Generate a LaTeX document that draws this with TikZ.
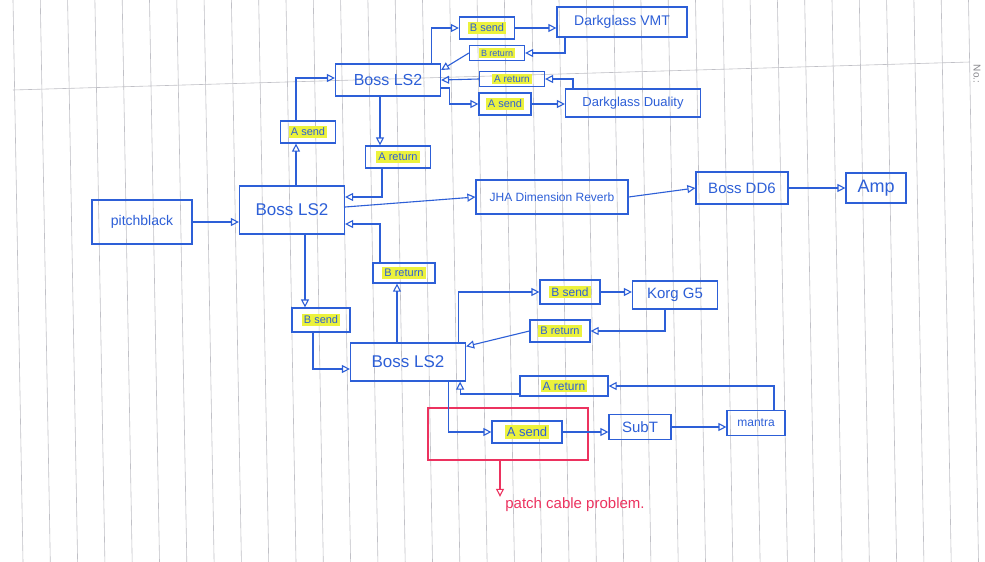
\documentclass[tikz,border=0pt]{standalone}
\usepackage{fontspec}
\setmainfont{Liberation Sans}
\usetikzlibrary{arrows.meta,calc}
\definecolor{ink}{RGB}{45,95,215}
\definecolor{hly}{RGB}{236,242,60}
\definecolor{redink}{RGB}{236,50,95}
\definecolor{paper}{RGB}{192,192,198}
\newcommand\hlt[1]{{\setlength{\fboxsep}{2pt}\colorbox{hly}{#1}}}
\newcommand\fs[1]{\fontsize{#1}{#1}\selectfont}
\begin{document}
\begin{tikzpicture}[x=1pt,y=-1pt,
  pedal/.style={draw=ink, line width=1.2pt, text=ink, inner sep=0pt, align=center},
  arr/.style={draw=ink, line width=1.1pt, -{Triangle[open, length=8pt, width=8pt]}},
  redarr/.style={draw=redink, line width=1.1pt, -{Triangle[open, length=8pt, width=8pt]}},
  paperline/.style={draw=paper, line width=0.6pt}]
\useasboundingbox (0,0) rectangle (985,562);
\fill[white] (0,0) rectangle (985,562);
% lined paper
\foreach \k in {0,...,35} \draw[paperline] ({13+27.3*\k},0) -- ({23+27.3*\k},562);
\draw[paperline] (13,90) -- (970,62);
\node[text=paper!70!black, font=\fs{10}, rotate=-90] (no) at (977,74) {No.:};

% nodes
\node[pedal, minimum width=100pt, minimum height=44pt, font=\fs{14}] (pitch) at (142,222) {pitchblack};
\node[pedal, minimum width=105pt, minimum height=48pt, font=\fs{17}] (ls2m) at (292,210) {Boss LS2};
\node[pedal, minimum width=55pt, minimum height=22pt, font=\fs{11}] (asend1) at (308,132) {\hlt{A send}};
\node[pedal, minimum width=65pt, minimum height=22pt, font=\fs{11}] (aret1) at (398,157) {\hlt{A return}};
\node[pedal, minimum width=105pt, minimum height=32pt, font=\fs{16}] (ls2t) at (388,80) {Boss LS2};
\node[pedal, minimum width=55pt, minimum height=22pt, font=\fs{11}] (bsend1) at (487,28) {\hlt{B send}};
\node[pedal, minimum width=130pt, minimum height=30pt, font=\fs{14}] (vmt) at (622,22) {Darkglass VMT};
\node[pedal, minimum width=55pt, minimum height=15pt, font=\fs{9}] (bret1) at (497,53) {\hlt{B return}};
\node[pedal, minimum width=65pt, minimum height=15pt, font=\fs{10}] (aret2) at (512,79) {\hlt{A return}};
\node[pedal, minimum width=52pt, minimum height=22pt, font=\fs{11}] (asend2) at (505,104) {\hlt{A send}};
\node[pedal, minimum width=135pt, minimum height=28pt, font=\fs{13}] (dual) at (633,103) {Darkglass Duality};
\node[pedal, minimum width=152pt, minimum height=34pt, font=\fs{12}] (jha) at (552,197) {JHA Dimension Reverb};
\node[pedal, minimum width=92pt, minimum height=32pt, font=\fs{15}] (dd6) at (742,188) {Boss DD6};
\node[pedal, minimum width=60pt, minimum height=30pt, font=\fs{18}] (amp) at (876,188) {Amp};
\node[pedal, minimum width=62pt, minimum height=20pt, font=\fs{11}] (bret2) at (404,273) {\hlt{B return}};
\node[pedal, minimum width=58pt, minimum height=24pt, font=\fs{11}] (bsend2) at (321,320) {\hlt{B send}};
\node[pedal, minimum width=115pt, minimum height=38pt, font=\fs{17}] (ls2b) at (408,362) {Boss LS2};
\node[pedal, minimum width=60pt, minimum height=24pt, font=\fs{12}] (bsend3) at (570,292) {\hlt{B send}};
\node[pedal, minimum width=85pt, minimum height=28pt, font=\fs{15}] (korg) at (675,295) {Korg G5};
\node[pedal, minimum width=60pt, minimum height=22pt, font=\fs{11}] (bret3) at (560,331) {\hlt{B return}};
\node[pedal, minimum width=88pt, minimum height=20pt, font=\fs{12}] (aret3) at (564,386) {\hlt{A return}};
\node[pedal, minimum width=70pt, minimum height=22pt, font=\fs{13}] (asend3) at (527,432) {\hlt{A send}};
\node[pedal, minimum width=62pt, minimum height=25pt, font=\fs{15}] (subt) at (640,427) {SubT};
\node[pedal, minimum width=58pt, minimum height=25pt, font=\fs{12}] (mantra) at (756,423) {mantra};
\node[draw=redink, line width=1.3pt, minimum width=160pt, minimum height=52pt, inner sep=0pt] (redbox) at (508,434) {};
\node[text=redink, font=\fs{15}, inner sep=1pt] (note) at (575,505) {patch cable problem.};

% connectors
\draw[arr] (pitch.east) -- (pitch.east -| ls2m.west);
\draw[arr] ([xshift=-12pt]asend1.south |- ls2m.north) -- ([xshift=-12pt]asend1.south);
\draw[arr] ([xshift=-12pt]asend1.north) |- ([yshift=2pt]ls2t.west);
\draw[arr] ([xshift=-18pt]aret1.north |- ls2t.south) -- ([xshift=-18pt]aret1.north);
\draw[arr] ([xshift=-16pt]aret1.south) |- ([yshift=13pt]ls2m.east);
\draw[arr] ([xshift=-10pt]ls2t.north east) |- (bsend1.west);
\draw[arr] (bsend1.east) -- (bsend1.east -| vmt.west);
\draw[arr] ([xshift=-57pt]vmt.south) |- (bret1.east);
\draw[arr] (bret1.west) -- ([yshift=10pt]ls2t.east);
\draw[arr] ([xshift=-60pt]dual.north) |- (aret2.east);
\draw[arr] (aret2.west) -- (ls2t.east);
\draw[arr] ([yshift=-8pt]ls2t.east) -- ++(8,0) |- (asend2.west);
\draw[arr] (asend2.east) -- (asend2.east -| dual.west);
\draw[arr] ([yshift=3pt]ls2m.east) -- (jha.west);
\draw[arr] (jha.east) -- (dd6.west);
\draw[arr] (dd6.east) -- (amp.west);
\draw[arr] ([xshift=-16pt]bsend2.north |- ls2m.south) -- ([xshift=-16pt]bsend2.north);
\draw[arr] ([xshift=-8pt]bsend2.south) |- ([yshift=-7pt]ls2b.west);
\draw[arr] ([xshift=-7pt]bret2.south |- ls2b.north) -- ([xshift=-7pt]bret2.south);
\draw[arr] ([xshift=-24pt]bret2.north) |- ([yshift=-14pt]ls2m.east);
\draw[arr] ([xshift=-8pt]ls2b.north east) |- (bsend3.west);
\draw[arr] (bsend3.east) -- (bsend3.east -| korg.west);
\draw[arr] ([xshift=-10pt]korg.south) |- (bret3.east);
\draw[arr] (bret3.west) -- ([yshift=-4pt]ls2b.north east);
\draw[arr] ([xshift=18pt]mantra.north) |- (aret3.east);
\draw[arr] ([yshift=-8pt]aret3.west) -| ([xshift=-6pt]ls2b.south east);
\draw[arr] ([xshift=-18pt]ls2b.south east) |- (asend3.west);
\draw[arr] (asend3.east) -- (asend3.east -| subt.west);
\draw[arr] (subt.east) -- (subt.east -| mantra.west);
\draw[redarr] ([xshift=-8pt]redbox.south) -- ([xshift=-8pt]redbox.south |- note.north);
\end{tikzpicture}
\end{document}
